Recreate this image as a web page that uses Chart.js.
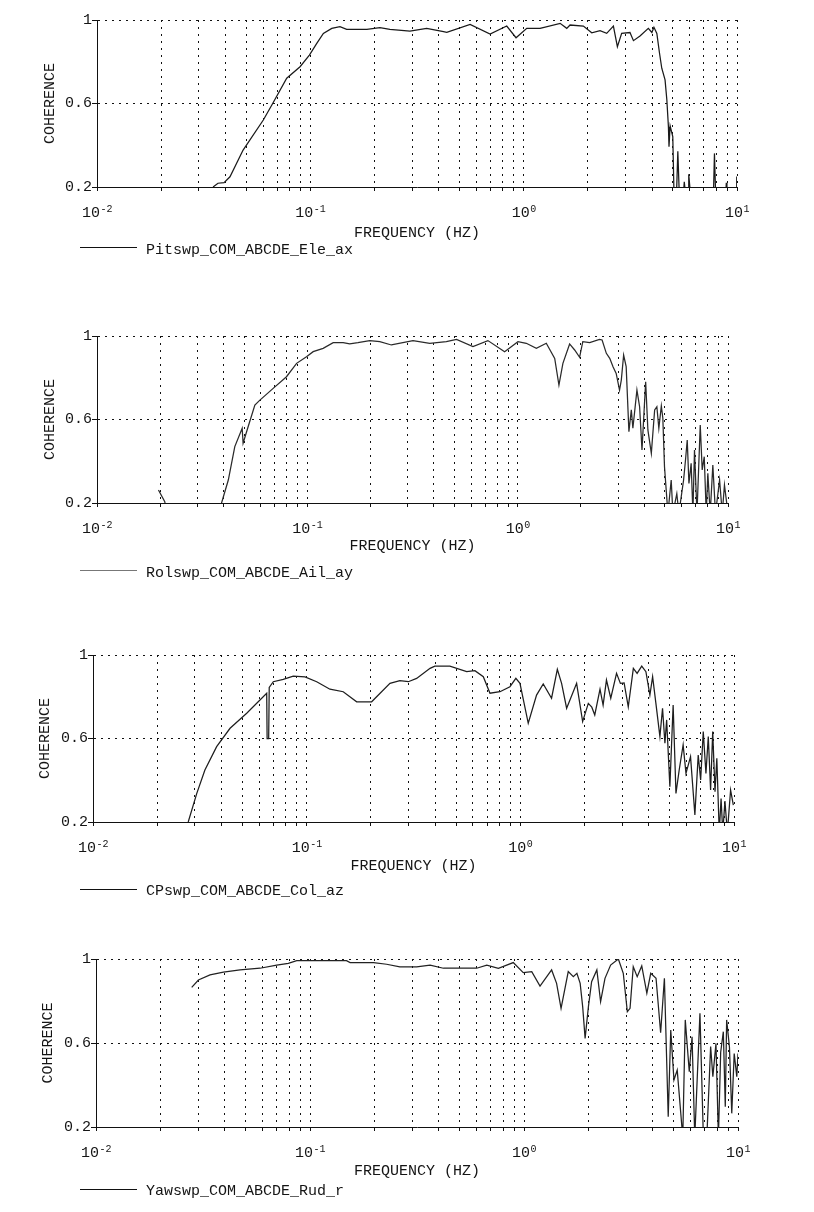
<!DOCTYPE html>
<html>
<head>
<meta charset="utf-8">
<script src="https://cdn.jsdelivr.net/npm/chart.js@4/dist/chart.umd.min.js"></script>
<style>
html,body{margin:0;padding:0;background:#ffffff;}
body{width:814px;height:1212px;position:relative;overflow:hidden;}
.panel{position:absolute;left:0;width:814px;}
canvas{display:block;}
</style>
</head>
<body>
<div class="panel" style="top:0px"><canvas id="c0" width="814" height="270"></canvas></div>
<div class="panel" style="top:310px"><canvas id="c1" width="814" height="280"></canvas></div>
<div class="panel" style="top:630px"><canvas id="c2" width="814" height="280"></canvas></div>
<div class="panel" style="top:935px"><canvas id="c3" width="814" height="277"></canvas></div>
<script>
// ---------------- DATA ----------------
const seriesNames = ['Pitswp_COM_ABCDE_Ele_ax', 'Rolswp_COM_ABCDE_Ail_ay', 'CPswp_COM_ABCDE_Col_az', 'Yawswp_COM_ABCDE_Rud_r'];
const xAxisTitle = 'FREQUENCY (HZ)';
const yAxisTitle = 'COHERENCE';
const yTickValues = [0.2, 0.6, 1];
const yTickLabels = ['0.2', '0.6', '1'];
const xTickBase = '10';
const xTickExponents = [-2, -1, 0, 1];
const xGridMantissas = [1, 2, 3, 4, 5, 6, 7, 8, 9];

const pitFreq = [0.0350,0.0369,0.0394,0.0420,0.0484,0.0602,0.0666,0.0775,0.0895,0.0990,0.1072,0.1151,0.126,0.1377,0.148,0.184,0.212,0.236,0.293,0.351,0.421,0.436,0.561,0.696,0.833,0.921,1.034,1.194,1.482,1.592,1.650,1.905,2.085,2.28,2.45,2.634,2.75,2.88,3.15,3.27,3.51,3.84,3.99,4.08,4.21,4.33,4.44,4.60,4.69,4.77,4.80,4.86,5.00,5.07,5.20,5.28,5.37,5.60,5.66,5.76,5.90,5.94,6.07,7.75,7.84,7.95,8.85,8.91,8.97,9.90,9.97,10];
const pitCoh  = [0.20,0.218,0.221,0.249,0.377,0.521,0.600,0.721,0.776,0.832,0.888,0.936,0.960,0.968,0.955,0.955,0.963,0.955,0.947,0.960,0.944,0.941,0.979,0.933,0.971,0.915,0.960,0.960,0.984,0.960,0.976,0.971,0.939,0.949,0.936,0.971,0.872,0.936,0.940,0.901,0.923,0.960,0.940,0.965,0.936,0.843,0.769,0.713,0.617,0.489,0.393,0.492,0.441,0.15,0.15,0.371,0.15,0.15,0.225,0.15,0.15,0.261,0.15,0.15,0.361,0.15,0.15,0.22,0.15,0.15,0.25,0.15];

const rolFreq = [0.0196,0.0210,0.0215,0.0385,0.0391,0.0421,0.0452,0.0490,0.0495,0.0523,0.0563,0.0595,0.0688,0.0796,0.0889,0.0991,0.1066,0.1189,0.1327,0.148,0.159,0.174,0.198,0.221,0.251,0.318,0.382,0.458,0.512,0.613,0.722,0.867,1.003,1.099,1.227,1.368,1.50,1.571,1.641,1.766,1.866,1.970,2.04,2.20,2.45,2.52,2.64,2.74,2.84,2.94,3.05,3.11,3.19,3.28,3.38,3.47,3.53,3.69,3.80,3.90,4.06,4.16,4.32,4.48,4.59,4.69,4.82,4.90,4.99,5.18,5.37,5.47,5.71,5.84,6.15,6.28,6.40,6.52,6.68,6.81,6.93,7.12,7.38,7.54,7.71,7.88,8.02,8.23,8.47,8.72,9.12,9.39,9.62,10];
const rolCoh  = [0.262,0.206,0.15,0.15,0.20,0.31,0.470,0.558,0.486,0.565,0.669,0.693,0.749,0.805,0.869,0.901,0.925,0.941,0.968,0.968,0.962,0.968,0.978,0.973,0.957,0.978,0.965,0.973,0.984,0.949,0.978,0.925,0.973,0.965,0.941,0.965,0.893,0.765,0.869,0.962,0.933,0.898,0.973,0.968,0.984,0.981,0.917,0.893,0.853,0.821,0.741,0.789,0.909,0.853,0.542,0.646,0.558,0.741,0.661,0.454,0.781,0.550,0.438,0.646,0.661,0.558,0.665,0.606,0.374,0.15,0.31,0.15,0.245,0.15,0.31,0.406,0.502,0.294,0.390,0.15,0.454,0.15,0.574,0.358,0.422,0.15,0.342,0.15,0.382,0.15,0.31,0.15,0.286,0.15];

const cpFreq = [0.0279,0.0306,0.0334,0.0379,0.0438,0.0524,0.0650,0.0653,0.0664,0.0668,0.0698,0.0777,0.0865,0.0982,0.1114,0.1285,0.1483,0.1714,0.2014,0.2454,0.273,0.299,0.327,0.378,0.398,0.468,0.561,0.613,0.671,0.721,0.803,0.894,0.953,0.996,1.089,1.191,1.28,1.40,1.49,1.56,1.647,1.834,1.957,2.08,2.16,2.23,2.36,2.44,2.53,2.65,2.82,2.94,3.06,3.20,3.38,3.52,3.70,3.87,4.04,4.16,4.31,4.50,4.63,4.75,4.84,5.01,5.19,5.35,5.54,5.78,5.96,6.26,6.56,6.80,6.98,7.18,7.39,7.58,7.77,7.95,8.15,8.31,8.53,8.70,8.86,9.07,9.31,9.64,9.93];
const cpCoh  = [0.20,0.337,0.449,0.561,0.649,0.721,0.817,0.600,0.600,0.845,0.872,0.883,0.899,0.895,0.872,0.836,0.824,0.776,0.776,0.864,0.877,0.872,0.888,0.936,0.947,0.947,0.920,0.925,0.896,0.817,0.824,0.848,0.888,0.864,0.673,0.808,0.861,0.793,0.931,0.864,0.745,0.864,0.681,0.768,0.750,0.713,0.836,0.760,0.880,0.793,0.912,0.864,0.866,0.752,0.936,0.912,0.947,0.920,0.808,0.896,0.768,0.609,0.745,0.577,0.689,0.369,0.760,0.337,0.449,0.569,0.433,0.513,0.234,0.521,0.401,0.633,0.433,0.609,0.353,0.633,0.345,0.505,0.15,0.313,0.15,0.300,0.15,0.353,0.281];

const yawFreq = [0.0280,0.0301,0.0341,0.0394,0.0471,0.0584,0.0699,0.0792,0.0867,0.1036,0.148,0.154,0.198,0.228,0.263,0.315,0.364,0.42,0.601,0.670,0.759,0.891,0.992,1.087,1.188,1.346,1.42,1.49,1.61,1.70,1.767,1.83,1.88,1.93,2.00,2.07,2.19,2.28,2.39,2.54,2.76,2.91,3.04,3.13,3.24,3.38,3.55,3.75,3.91,4.14,4.35,4.53,4.72,4.85,5.02,5.20,5.52,5.67,5.92,6.10,6.28,6.64,6.89,7.15,7.45,7.63,7.89,8.10,8.30,8.54,8.72,8.85,9.12,9.35,9.60,9.87,10];
const yawCoh  = [0.865,0.900,0.924,0.937,0.948,0.956,0.971,0.979,0.992,0.992,0.992,0.983,0.983,0.975,0.963,0.963,0.971,0.956,0.956,0.971,0.956,0.983,0.935,0.940,0.871,0.948,0.884,0.765,0.940,0.916,0.932,0.884,0.773,0.622,0.773,0.892,0.948,0.797,0.908,0.971,1.000,0.932,0.749,0.765,0.963,0.916,0.967,0.837,0.932,0.908,0.649,0.908,0.249,0.662,0.424,0.471,0.15,0.710,0.463,0.630,0.15,0.741,0.15,0.15,0.583,0.440,0.598,0.15,0.556,0.654,0.297,0.710,0.581,0.265,0.550,0.440,0.550];

const seriesFreq = [pitFreq, rolFreq, cpFreq, yawFreq];
const seriesCoh = [pitCoh, rolCoh, cpCoh, yawCoh];

// ---------------- LAYOUT / STYLE ----------------
const layoutSpec = [
  {canvasTop: 0,   H: 270, left: 97, right: 737, top: 20,  bottom: 187,  legendY: 249,   yTitleX: 49,   xTitleOff: 45, lineColor: '#1a1a1a', legendColor: '#111111'},
  {canvasTop: 310, H: 280, left: 97, right: 728, top: 336, bottom: 503,  legendY: 572,   yTitleX: 49.5, xTitleOff: 42, lineColor: '#2a2a2a', legendColor: '#777777'},
  {canvasTop: 630, H: 280, left: 93, right: 734, top: 655, bottom: 822,  legendY: 890.5, yTitleX: 44,   xTitleOff: 43, lineColor: '#1e1e1e', legendColor: '#111111'},
  {canvasTop: 935, H: 277, left: 96, right: 738, top: 959, bottom: 1127, legendY: 1190.5,yTitleX: 47.5, xTitleOff: 43, lineColor: '#222222', legendColor: '#111111'}
];
const FONT = '"Liberation Mono", "DejaVu Sans Mono", monospace';
const TEXT = '#141414';
const GRID = '#111111';

const xGridValues = [];
for (let e = -2; e <= 0; e++) {
  xGridMantissas.forEach(m => xGridValues.push(m * Math.pow(10, e)));
}
xGridValues.push(10);

const decorPlugin = {
  id: 'decor',
  afterDraw(chart, args, opts) {
    const ctx = chart.ctx;
    const xs = chart.scales.x;
    ctx.save();
    ctx.fillStyle = TEXT;
    ctx.textAlign = 'left';
    ctx.textBaseline = 'alphabetic';
    // x tick labels 10^n
    xTickExponents.forEach(e => {
      const px = xs.getPixelForValue(Math.pow(10, e));
      const sup = e < 0 ? '-' + Math.abs(e) : String(e);
      ctx.font = '15px ' + FONT;
      const w1 = ctx.measureText(xTickBase).width;
      ctx.font = '10px ' + FONT;
      const w2 = ctx.measureText(sup).width;
      const x0 = px - (w1 + w2) / 2;
      ctx.font = '15px ' + FONT;
      ctx.fillText(xTickBase, x0, chart.chartArea.bottom + 30);
      ctx.font = '10px ' + FONT;
      ctx.fillText(sup, x0 + w1 + 0.5, chart.chartArea.bottom + 24.5);
    });
    // legend
    const ds = chart.data.datasets[0];
    const ly = opts.legendY;
    ctx.strokeStyle = opts.legendColor;
    ctx.lineWidth = 1;
    ctx.beginPath();
    ctx.moveTo(80, Math.round(ly - 2) + 0.5);
    ctx.lineTo(137, Math.round(ly - 2) + 0.5);
    ctx.stroke();
    ctx.font = '15px ' + FONT;
    ctx.textBaseline = 'middle';
    ctx.fillText(ds.label, 146, ly + 1);
    ctx.restore();
  }
};

layoutSpec.forEach((L, i) => {
  const topL = L.top - L.canvasTop;
  const bottomL = L.bottom - L.canvasTop;
  const xH = L.xTitleOff + 10;
  const padLeft = L.yTitleX - 8;
  const padBottom = L.H - bottomL - xH;
  const points = seriesFreq[i].map((f, k) => ({x: f, y: seriesCoh[i][k]}));
  new Chart(document.getElementById('c' + i), {
    type: 'line',
    data: {
      datasets: [{
        label: seriesNames[i],
        data: points,
        borderColor: L.lineColor,
        borderWidth: 1.25,
        pointRadius: 0,
        tension: 0,
        fill: false
      }]
    },
    options: {
      responsive: false,
      devicePixelRatio: 1,
      animation: false,
      events: [],
      layout: {padding: {left: padLeft, top: topL, right: 814 - L.right, bottom: padBottom}},
      plugins: {
        legend: {display: false},
        tooltip: {enabled: false},
        title: {display: false},
        decor: {legendY: L.legendY - L.canvasTop, legendColor: L.legendColor}
      },
      scales: {
        x: {
          type: 'logarithmic',
          min: 0.01,
          max: 10,
          afterBuildTicks: s => { s.ticks = xGridValues.map(v => ({value: v})); },
          afterFit: s => { s.height = xH; },
          ticks: {display: false, autoSkip: false},
          grid: {color: GRID, lineWidth: 1, drawTicks: true, tickLength: 4, tickColor: '#111', tickWidth: 1, tickBorderDash: []},
          border: {display: true, color: '#111', width: 1, dash: [2, 5]},
          title: {display: true, text: xAxisTitle, color: TEXT, font: {family: FONT, size: 15}, padding: 0}
        },
        y: {
          type: 'linear',
          min: 0.2,
          max: 1,
          afterBuildTicks: s => { s.ticks = yTickValues.map(v => ({value: v})); },
          afterFit: s => { s.width = L.left - padLeft; },
          ticks: {
            color: TEXT,
            font: {family: FONT, size: 15},
            padding: 0,
            autoSkip: false,
            callback: (v, idx) => yTickLabels[idx]
          },
          grid: {color: GRID, lineWidth: 1, drawTicks: true, tickLength: 5, tickColor: '#111', tickWidth: 1, tickBorderDash: []},
          border: {display: true, color: '#111', width: 1, dash: [2, 5]},
          title: {display: true, text: yAxisTitle, color: TEXT, font: {family: FONT, size: 15}, padding: 0}
        }
      }
    },
    plugins: [decorPlugin]
  });
});
</script>
</body>
</html>
